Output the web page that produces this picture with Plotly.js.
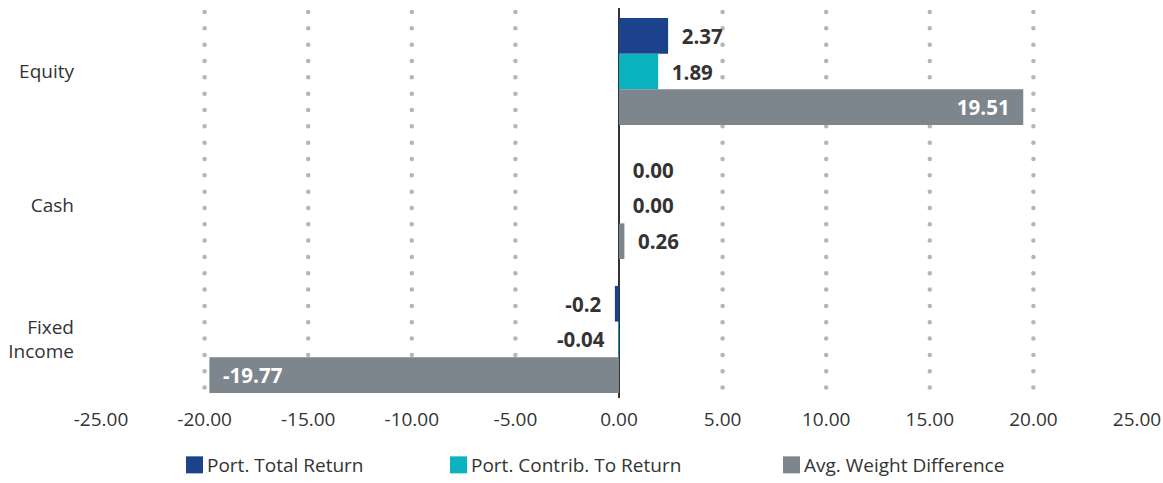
<!DOCTYPE html>
<html>
<head>
<meta charset="utf-8">
<script src="https://cdn.plot.ly/plotly-3.0.1.min.js"></script>
<style>
  html, body { margin: 0; padding: 0; background: #fff; }
  #chart { width: 1163px; height: 483px; }
  /* round dotted grid */
  .gridlayer path {
    stroke-linecap: round !important;
    stroke-dashoffset: 12.33px;
    shape-rendering: geometricPrecision !important;
  }
</style>
</head>
<body>
<div id="chart"></div>
<script>
// Asset classes, top to bottom
const categories = ['Equity', 'Cash', 'Fixed<br>Income'];

// Series labels as printed on the bars; values are taken from them
const totalReturnLabels = ['2.37', '0.00', '-0.2'];
const contribLabels     = ['1.89', '0.00', '-0.04'];
const weightDiffLabels  = ['19.51', '0.26', '-19.77'];

const totalReturn = totalReturnLabels.map(Number);
const contrib     = contribLabels.map(Number);
const weightDiff  = weightDiffLabels.map(Number);

const seriesNames = ['Port. Total Return', 'Port. Contrib. To Return', 'Avg. Weight Difference'];
const seriesColors = ['#1b428a', '#0bb2c0', '#7d858d'];

const xTicks = [-25, -20, -15, -10, -5, 0, 5, 10, 15, 20, 25];

const FONT = '"Open Sans", "Noto Sans", sans-serif';
const PAD = '\u00A0\u00A0';

function padLabel(label, value, inside) {
  // keep a little air between the bar end and its label
  if (inside) return value < 0 ? PAD + label : label + PAD;
  return value < 0 ? label + PAD : PAD + label;
}

function makeTrace(name, values, labels, color, legendId) {
  const pos = values.map(v => Math.abs(v) > 5 ? 'inside' : 'outside');
  return {
    type: 'bar',
    orientation: 'h',
    name: name,
    y: categories,
    x: values,
    text: labels.map((l, i) => padLabel(l, values[i], pos[i] === 'inside')),
    textposition: pos,
    insidetextanchor: 'end',
    textangle: 0,
    constraintext: 'none',
    cliponaxis: false,
    insidetextfont: { family: FONT, size: 20.5, color: '#ffffff', weight: 700 },
    outsidetextfont: { family: FONT, size: 20.5, color: '#333333', weight: 700 },
    marker: { color: color, line: { width: 0 } },
    hoverinfo: 'skip',
    legend: legendId
  };
}

const data = [
  makeTrace(seriesNames[0], totalReturn, totalReturnLabels, seriesColors[0], 'legend'),
  makeTrace(seriesNames[1], contrib, contribLabels, seriesColors[1], 'legend2'),
  makeTrace(seriesNames[2], weightDiff, weightDiffLabels, seriesColors[2], 'legend3')
];

// legend text starts (px)
const legendTextX = [208, 472, 805];
const W = 1163, H = 483;

const legendBase = {
  orientation: 'h',
  xref: 'container',
  yref: 'container',
  yanchor: 'middle',
  y: 1 - 465 / H,
  xanchor: 'left',
  font: { family: FONT, size: 19, color: '#333333' },
  bgcolor: 'rgba(0,0,0,0)',
  borderwidth: 0,
  itemclick: false,
  itemdoubleclick: false
};

function legendAt(i) {
  return Object.assign({}, legendBase, { x: (legendTextX[i] - 41) / W });
}

const layout = {
  width: W,
  height: H,
  margin: { l: 101, r: 26, t: 8, b: 85, autoexpand: false },
  paper_bgcolor: '#ffffff',
  plot_bgcolor: '#ffffff',
  barmode: 'group',
  bargap: 0.2,
  bargroupgap: 0,
  showlegend: true,
  font: { family: FONT, color: '#333333' },
  xaxis: {
    range: [-25, 25],
    tickvals: xTicks,
    ticktext: xTicks.map(v => v.toFixed(2)),
    showgrid: true,
    gridcolor: '#b5b5b5',
    gridwidth: 4.5,
    griddash: '0px,16.33px',
    zeroline: true,
    zerolinecolor: '#333333',
    zerolinewidth: 1.5,
    showline: false,
    ticks: '',
    ticklabelstandoff: 8,
    automargin: false,
    tickfont: { family: FONT, size: 19, color: '#333333' },
    fixedrange: true
  },
  yaxis: {
    type: 'category',
    range: [2.437, -0.474],
    showgrid: false,
    zeroline: false,
    showline: false,
    ticks: '',
    ticklabelstandoff: 26,
    automargin: false,
    tickfont: { family: FONT, size: 19, color: '#333333' },
    fixedrange: true
  },
  legend: legendAt(0),
  legend2: legendAt(1),
  legend3: legendAt(2)
};

Plotly.newPlot('chart', data, layout, { displayModeBar: false, staticPlot: true }).then(gd => {
  // larger square swatches sitting close to their text
  gd.querySelectorAll('.legendpoints path').forEach(p => {
    p.setAttribute('d', 'M16,8.5H-1V-8.5H16Z');
  });
});
</script>
</body>
</html>
